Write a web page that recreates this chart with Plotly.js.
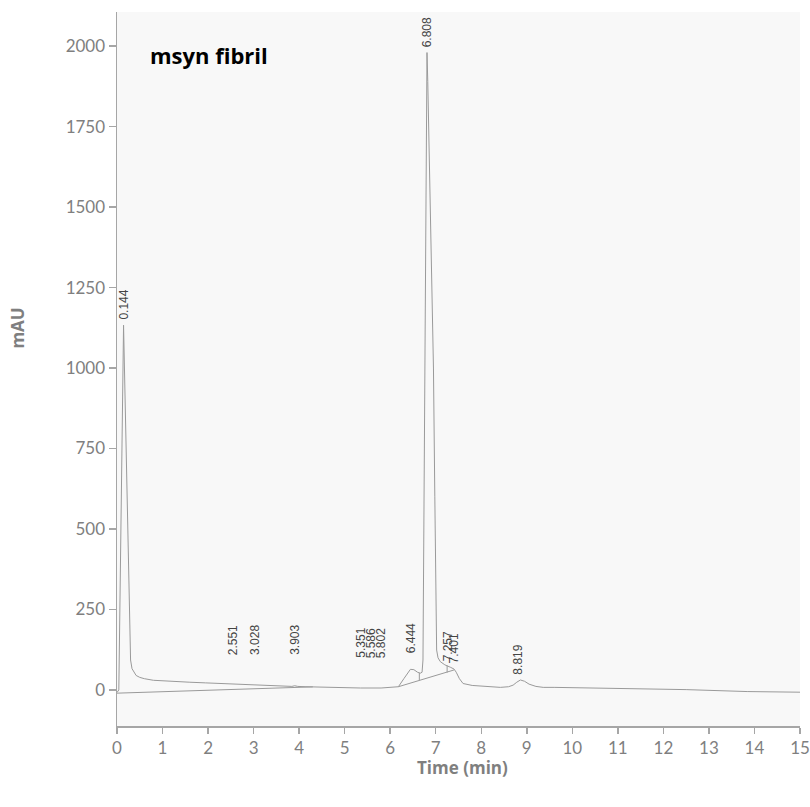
<!DOCTYPE html>
<html>
<head>
<meta charset="utf-8">
<script src="https://cdn.plot.ly/plotly-3.0.1.min.js"></script>
<style>html,body{margin:0;padding:0;background:#fff;}#chart{width:810px;height:807px;}</style>
</head>
<body>
<div id="chart"></div>
<script>
// Chromatogram signal (time in min, absorbance in mAU)
const time = [0, 0.04, 0.144, 0.197, 0.258, 0.298, 0.33, 0.37, 0.42, 0.5, 0.6, 0.8, 1.2, 1.6, 1.94, 2.45, 2.96, 3.5, 3.84, 3.903, 3.97, 4.13, 4.6, 5.0, 5.35, 5.8, 6.0, 6.18, 6.3, 6.4, 6.444, 6.52, 6.6, 6.66, 6.70, 6.72, 6.745, 6.76, 6.79, 6.808, 6.825, 6.853, 6.9, 6.95, 6.98, 7.0, 7.02, 7.05, 7.1, 7.2, 7.257, 7.33, 7.401, 7.45, 7.52, 7.6, 7.8, 7.98, 8.2, 8.42, 8.6, 8.7, 8.78, 8.86, 8.95, 9.05, 9.2, 9.36, 9.6, 10.0, 11.0, 11.64, 12.5, 13.84, 15.0];
const signal = [-8, 0, 1133, 767, 351, 93, 66, 55, 45, 39, 35, 30, 26, 24, 22, 19, 15, 12, 11, 13, 11, 10, 8, 7, 6, 6, 7, 10, 35, 58, 64, 63, 55, 52, 55, 93, 600, 1000, 1700, 1980, 1890, 1708, 1400, 1000, 600, 200, 124, 100, 88, 78, 75, 70, 65, 55, 35, 20, 14, 12, 10, 8, 10, 15, 24, 31, 27, 18, 11, 8, 8, 7, 5, 3, 1, -5, -7];

// Integration baselines
const baseline1Time = [0, 4.3];
const baseline1Vals = [-10, 9.5];
const baseline2Time = [6.18, 7.40];
const baseline2Vals = [10, 62];
// Drop lines between peaks (time, top, bottom)
const dropTimes = [6.64, 7.25];
const dropTops = [53, 76];
const dropBottoms = [30, 54];

// Peak retention-time labels
const peakLabels = ["0.144", "2.551", "3.028", "3.903", "5.351", "5.586", "5.802", "6.444", "6.808", "7.257", "7.401", "8.819"];
const peakTimes = [0.144, 2.551, 3.028, 3.903, 5.351, 5.586, 5.802, 6.444, 6.808, 7.257, 7.401, 8.819];
const peakLevels = [1143, 102, 102, 102, 93, 93, 93, 109, 1990, 84, 76, 40];

// Axis ticks
const xTicks = [0,1,2,3,4,5,6,7,8,9,10,11,12,13,14,15];
const yTicks = [0,250,500,750,1000,1250,1500,1750,2000];

const lineColor = '#9a9a9a';
const traces = [
  {x: time, y: signal, type: 'scatter', mode: 'lines', line: {color: lineColor, width: 1}, hoverinfo: 'skip'},
  {x: baseline1Time, y: baseline1Vals, type: 'scatter', mode: 'lines', line: {color: lineColor, width: 1}, hoverinfo: 'skip'},
  {x: baseline2Time, y: baseline2Vals, type: 'scatter', mode: 'lines', line: {color: lineColor, width: 1}, hoverinfo: 'skip'}
];
dropTimes.forEach((t, i) => {
  traces.push({x: [t, t], y: [dropTops[i], dropBottoms[i]], type: 'scatter', mode: 'lines', line: {color: lineColor, width: 1}, hoverinfo: 'skip'});
});

const annotations = peakLabels.map((lab, i) => ({
  x: peakTimes[i], y: peakLevels[i], xref: 'x', yref: 'y',
  text: lab, textangle: -90, showarrow: false,
  xanchor: 'center', yanchor: 'bottom',
  font: {family: 'Liberation Sans, Arial, sans-serif', size: 12, color: '#444444'}
}));
annotations.push({
  xref: 'paper', yref: 'paper', x: 0.046, y: 0.94, xanchor: 'left', yanchor: 'middle',
  text: '<b>msyn fibril</b>', showarrow: false,
  font: {family: 'Open Sans, sans-serif', size: 22, color: '#000000'}
});
// y-axis title (placed off-centre as in the original)
annotations.push({
  xref: 'paper', yref: 'paper', x: -0.146, y: 0.557, xanchor: 'center', yanchor: 'middle',
  text: '<b>mAU</b>', textangle: -90, showarrow: false,
  font: {family: 'Open Sans, sans-serif', size: 17, color: '#7f7f7f'}
});
// x-axis title
annotations.push({
  xref: 'paper', yref: 'paper', x: 0.506, y: -0.058, xanchor: 'center', yanchor: 'middle',
  text: '<b>Time (min)</b>', showarrow: false,
  font: {family: 'Open Sans, sans-serif', size: 17, color: '#7f7f7f'}
});

const layout = {
  width: 810, height: 807,
  margin: {l: 117, r: 10, t: 12, b: 81},
  paper_bgcolor: '#ffffff',
  plot_bgcolor: '#f8f8f8',
  showlegend: false,
  font: {family: 'Lato, Open Sans, sans-serif', color: '#7f7f7f'},
  xaxis: {
    range: [0, 15], tickvals: xTicks, ticktext: xTicks.map(String),
    showgrid: false, zeroline: false, showline: true, linecolor: '#a6a6a6', linewidth: 1.5,
    ticks: 'outside', ticklen: 6, tickcolor: '#a6a6a6', tickwidth: 1.5,
    tickfont: {family: 'Lato, sans-serif', size: 17, color: '#7f7f7f'}
  },
  yaxis: {
    range: [-112, 2106], tickvals: yTicks, ticktext: yTicks.map(String),
    showgrid: false, zeroline: false, showline: true, linecolor: '#a6a6a6', linewidth: 1.5,
    ticks: 'outside', ticklen: 7, tickcolor: '#a6a6a6', tickwidth: 1.5,
    tickfont: {family: 'Lato, sans-serif', size: 17, color: '#7f7f7f'}
  },
  annotations: annotations
};

Plotly.newPlot('chart', traces, layout, {displayModeBar: false, staticPlot: true});
</script>
</body>
</html>
